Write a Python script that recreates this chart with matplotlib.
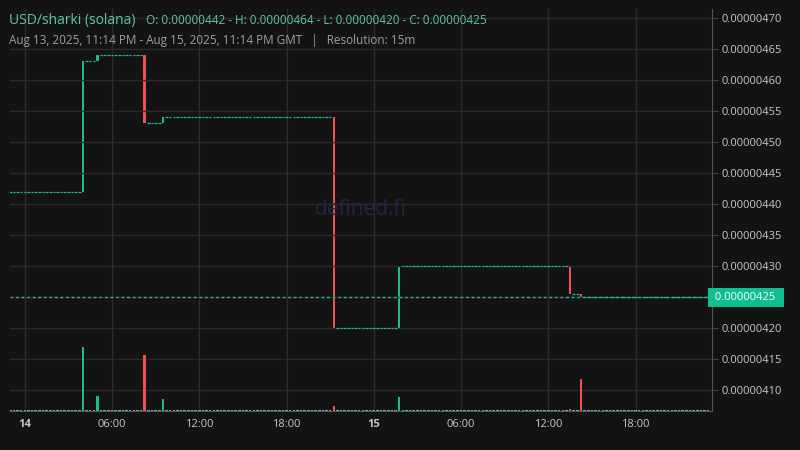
import numpy as np
import pandas as pd
import matplotlib
matplotlib.use("Agg")
import matplotlib.pyplot as plt
import matplotlib.dates as mdates

plt.rcParams['font.family'] = ['Open Sans', 'DejaVu Sans']

# price changes (time of the candle, open, close), prices in 1e-8
evt_time = ["2025-08-14 04:00", "2025-08-14 05:00", "2025-08-14 08:15", "2025-08-14 09:30",
            "2025-08-14 21:15", "2025-08-15 01:45", "2025-08-15 13:30", "2025-08-15 14:15"]
evt_open = [442, 463, 464, 453, 454, 420, 430, 425.5]
evt_close = [463, 464, 453, 454, 420, 430, 425.5, 425]
start_price = 442

# volume spikes
vol_time = ["2025-08-14 04:00", "2025-08-14 05:00", "2025-08-14 08:15", "2025-08-14 09:30",
            "2025-08-14 21:15", "2025-08-15 01:45", "2025-08-15 13:30", "2025-08-15 14:15"]
vol_vals = [59, 14, 51, 11, 4, 13, 2, 29]
vol_base = 0.8

bg = '#131313'
green = '#22b894'
red = '#f0504f'
gridc = '#2b2b2b'
txt = '#c8c8c8'

# velas de 15 minutos
times = pd.date_range("2025-08-13 23:00", "2025-08-15 23:00", freq="15min")
ev = dict(zip(pd.to_datetime(evt_time), zip(evt_open, evt_close)))
opens, closes = [], []
p = start_price
for t in times:
    if t in ev:
        o, c = ev[t]
    else:
        o, c = p, p
    opens.append(o)
    closes.append(c)
    p = c
vols = pd.Series(vol_base, index=times)
vcol = pd.Series('#5fb8a0', index=times)
for t, v in zip(pd.to_datetime(vol_time), vol_vals):
    vols[t] = v
    vcol[t] = green if ev[t][1] >= ev[t][0] else red

fig = plt.figure(figsize=(8, 4.5), dpi=100, facecolor=bg)
ax = fig.add_axes([0.0125, 0.087, 0.877, 0.893])
ax.set_facecolor(bg)
x = mdates.date2num(times)
w = 15 / 1440 * 0.7
for xi, o, c in zip(x, opens, closes):
    col = green if c >= o else red
    if o == c:
        ax.hlines(o, xi - w / 2, xi + w / 2, color=green, lw=0.9)
    else:
        ax.bar(xi, c - o, bottom=o, width=w, color=col, lw=0)

ax.set_xlim(mdates.date2num(pd.Timestamp("2025-08-13 22:59")), mdates.date2num(pd.Timestamp("2025-08-15 23:14")))
ax.set_ylim(406.7, 471.4)

ax2 = ax.twinx()
ax2.bar(x, vols.values, width=w, color=vcol.values, lw=0)
ax2.set_ylim(0, 59 / 0.16)
ax2.axis('off')

ax.axhline(425, color=green, lw=1, ls=(0, (2, 2)))

ax.yaxis.tick_right()
yt = np.arange(410, 471, 5)
ax.set_yticks(yt)
ax.set_yticklabels(["" if v == 425 else f"{v * 1e-8:.8f}" for v in yt])
ax.tick_params(axis='y', colors=txt, labelsize=8, length=4, color='#444444', pad=3)
xt = pd.to_datetime(["2025-08-14 00:00", "2025-08-14 06:00", "2025-08-14 12:00", "2025-08-14 18:00",
                     "2025-08-15 00:00", "2025-08-15 06:00", "2025-08-15 12:00", "2025-08-15 18:00"])
xl = ["14", "06:00", "12:00", "18:00", "15", "06:00", "12:00", "18:00"]
ax.set_xticks(mdates.date2num(xt))
ax.set_xticklabels(xl)
for lab in ax.get_xticklabels():
    if lab.get_text() in ("14", "15"):
        lab.set_fontweight('bold')
ax.tick_params(axis='x', colors=txt, labelsize=8, length=0, pad=6)
ax.grid(True, color=gridc, lw=1)
for s in ['top', 'left']:
    ax.spines[s].set_visible(False)
for s in ['right', 'bottom']:
    ax.spines[s].set_color('#555555')

ax.text(1.0, (425 - 406.7) / (471.4 - 406.7), " 0.00000425  ", transform=ax.transAxes,
        color='white', fontsize=8, va='center', ha='left',
        bbox=dict(boxstyle='square,pad=0.35', fc='#0fbf8f', ec='none'))

ax.text(0.5, 0.5, "defined.fi", transform=ax.transAxes, color='#24244a', fontsize=15,
        ha='center', va='center')

fig.text(0.011, 0.955, "USD/sharki (solana)", color='#5cc7a4', fontsize=10, va='center')
fig.text(0.182, 0.955, "O: 0.00000442 - H: 0.00000464 - L: 0.00000420 - C: 0.00000425",
         color='#5cc7a4', fontsize=8.5, va='center')
fig.text(0.011, 0.91, "Aug 13, 2025, 11:14 PM - Aug 15, 2025, 11:14 PM GMT   |   Resolution: 15m",
         color='#a0a0a0', fontsize=8.5, va='center')

fig.savefig("out.png", dpi=100, facecolor=bg)
